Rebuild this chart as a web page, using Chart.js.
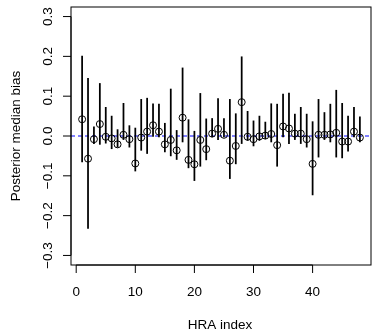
<!DOCTYPE html>
<html>
<head>
<meta charset="utf-8">
<script src="https://cdn.jsdelivr.net/npm/chart.js@4/dist/chart.umd.min.js"></script>
<style>
  html, body { margin: 0; padding: 0; background: #fff; }
  canvas { display: block; }
</style>
</head>
<body>
<canvas id="biasChart" width="376" height="330"></canvas>
<script>
// HRA index (x) and posterior median bias with interval (y)
const hraIndex = [1, 2, 3, 4, 5, 6, 7, 8, 9, 10, 11, 12, 13, 14, 15, 16, 17, 18, 19, 20, 21, 22, 23, 24,
                  25, 26, 27, 28, 29, 30, 31, 32, 33, 34, 35, 36, 37, 38, 39, 40, 41, 42, 43, 44, 45, 46, 47, 48];
const medianBias = [0.042, -0.057, -0.008, 0.030, -0.002, -0.006, -0.021, 0.003, -0.008, -0.069,
                    -0.004, 0.011, 0.027, 0.011, -0.021, -0.010, -0.036, 0.046, -0.060, -0.071,
                    -0.010, -0.033, 0.006, 0.018, 0.003, -0.062, -0.025, 0.085, -0.002, -0.008,
                    -0.001, 0.001, 0.005, -0.023, 0.024, 0.019, 0.006, 0.006, -0.008, -0.070,
                    0.003, 0.003, 0.004, 0.008, -0.014, -0.014, 0.011, -0.004];
const upperBias = [0.201, 0.145, 0.023, 0.132, 0.072, 0.050, 0.016, 0.082, 0.026, 0.020,
                   0.092, 0.095, 0.081, 0.080, 0.032, 0.118, 0.014, 0.171, 0.041, 0.012,
                   0.107, 0.043, 0.044, 0.094, 0.044, 0.092, 0.056, 0.199, 0.062, 0.038,
                   0.050, 0.035, 0.081, 0.080, 0.105, 0.108, 0.055, 0.072, 0.055, 0.036,
                   0.092, 0.059, 0.080, 0.115, 0.082, 0.050, 0.072, 0.048];
const lowerBias = [-0.065, -0.232, -0.019, -0.021, -0.018, -0.032, -0.028, -0.009, -0.028, -0.088,
                   -0.036, -0.044, -0.001, -0.002, -0.040, -0.050, -0.059, -0.015, -0.080, -0.112,
                   -0.076, -0.060, -0.002, -0.009, -0.002, -0.107, -0.070, -0.019, -0.011, -0.025,
                   -0.011, -0.007, -0.015, -0.076, -0.002, -0.019, -0.009, -0.019, -0.028, -0.148,
                   -0.053, -0.009, -0.015, -0.053, -0.055, -0.038, -0.002, -0.015];

// Ticks
const xTicks = [0, 10, 20, 30, 40];
const yTicks = [-0.3, -0.2, -0.1, 0.0, 0.1, 0.2, 0.3];
const yTickLabels = ["\u22120.3", "\u22120.2", "\u22120.1", "0.0", "0.1", "0.2", "0.3"];
const xTitle = "HRA index";
const yTitle = "Posterior median bias";

const FONT = '13.5px "Liberation Sans", Arial, sans-serif';

// Ejes estilo R base dibujados con las escalas de Chart.js
const rAxes = {
    id: 'rAxes',
    beforeDatasetsDraw(chart) {
        const ctx = chart.ctx;
        const ys = chart.scales.y;
        const a = chart.chartArea;
        const y0 = ys.getPixelForValue(0);
        ctx.save();
        ctx.strokeStyle = '#0000ff';
        ctx.lineWidth = 1;
        ctx.setLineDash([4, 3]);
        ctx.beginPath();
        ctx.moveTo(a.left, y0);
        ctx.lineTo(a.right, y0);
        ctx.stroke();
        ctx.restore();
    },
    afterDraw(chart) {
        const ctx = chart.ctx;
        const xs = chart.scales.x, ys = chart.scales.y;
        const a = chart.chartArea;
        ctx.save();
        ctx.strokeStyle = '#000';
        ctx.lineWidth = 1;
        // box
        ctx.strokeRect(a.left, a.top, a.right - a.left, a.bottom - a.top);

        // x axis
        const xa = xTicks.map(v => xs.getPixelForValue(v));
        ctx.beginPath();
        ctx.moveTo(xa[0], a.bottom);
        ctx.lineTo(xa[xa.length - 1], a.bottom);
        xa.forEach(px => {
            ctx.moveTo(px, a.bottom);
            ctx.lineTo(px, a.bottom + 8);
        });
        ctx.stroke();

        // y axis
        const ya = yTicks.map(v => ys.getPixelForValue(v));
        ctx.beginPath();
        ctx.moveTo(a.left, ya[0]);
        ctx.lineTo(a.left, ya[ya.length - 1]);
        ya.forEach(py => {
            ctx.moveTo(a.left, py);
            ctx.lineTo(a.left - 8, py);
        });
        ctx.stroke();

        // labels
        ctx.fillStyle = '#000';
        ctx.font = FONT;
        ctx.textAlign = 'center';
        ctx.textBaseline = 'alphabetic';
        xTicks.forEach((v, i) => ctx.fillText(String(v), xa[i], a.bottom + 31));
        ctx.fillText(xTitle, (a.left + a.right) / 2 - 1, a.bottom + 64);

        yTicks.forEach((v, i) => {
            ctx.save();
            ctx.translate(a.left - 19.5, ya[i]);
            ctx.rotate(-Math.PI / 2);
            ctx.fillText(yTickLabels[i], 0, 0);
            ctx.restore();
        });
        ctx.save();
        ctx.translate(a.left - 51.5, (a.top + a.bottom) / 2);
        ctx.rotate(-Math.PI / 2);
        ctx.fillText(yTitle, 0, 0);
        ctx.restore();
        ctx.restore();
    }
};

const ctx1 = document.getElementById('biasChart').getContext('2d');
const biasChart = new Chart(ctx1, {
    type: 'bar',
    data: {
        datasets: [{
            type: 'scatter',
            label: 'Median',
            data: hraIndex.map((x, i) => ({ x: x, y: medianBias[i] })),
            borderColor: '#000',
            backgroundColor: 'rgba(0,0,0,0)',
            pointRadius: 3.5,
            pointBorderWidth: 1,
            showLine: false,
            order: 1
        }, {
            type: 'bar',
            label: 'Interval',
            data: hraIndex.map((x, i) => ({ x: x, y: [lowerBias[i], upperBias[i]] })),
            backgroundColor: '#000',
            borderWidth: 0,
            barThickness: 1.1,
            order: 2
        }]
    },
    options: {
        responsive: false,
        animation: false,
        devicePixelRatio: 1,
        layout: { padding: { left: 71, top: 7, right: -2, bottom: 65 } },
        plugins: {
            legend: { display: false },
            tooltip: { enabled: false }
        },
        scales: {
            x: { type: 'linear', min: -0.88, max: 49.88, offset: false, display: false },
            y: { type: 'linear', min: -0.324, max: 0.324, display: false }
        }
    },
    plugins: [rAxes]
});
</script>
</body>
</html>
